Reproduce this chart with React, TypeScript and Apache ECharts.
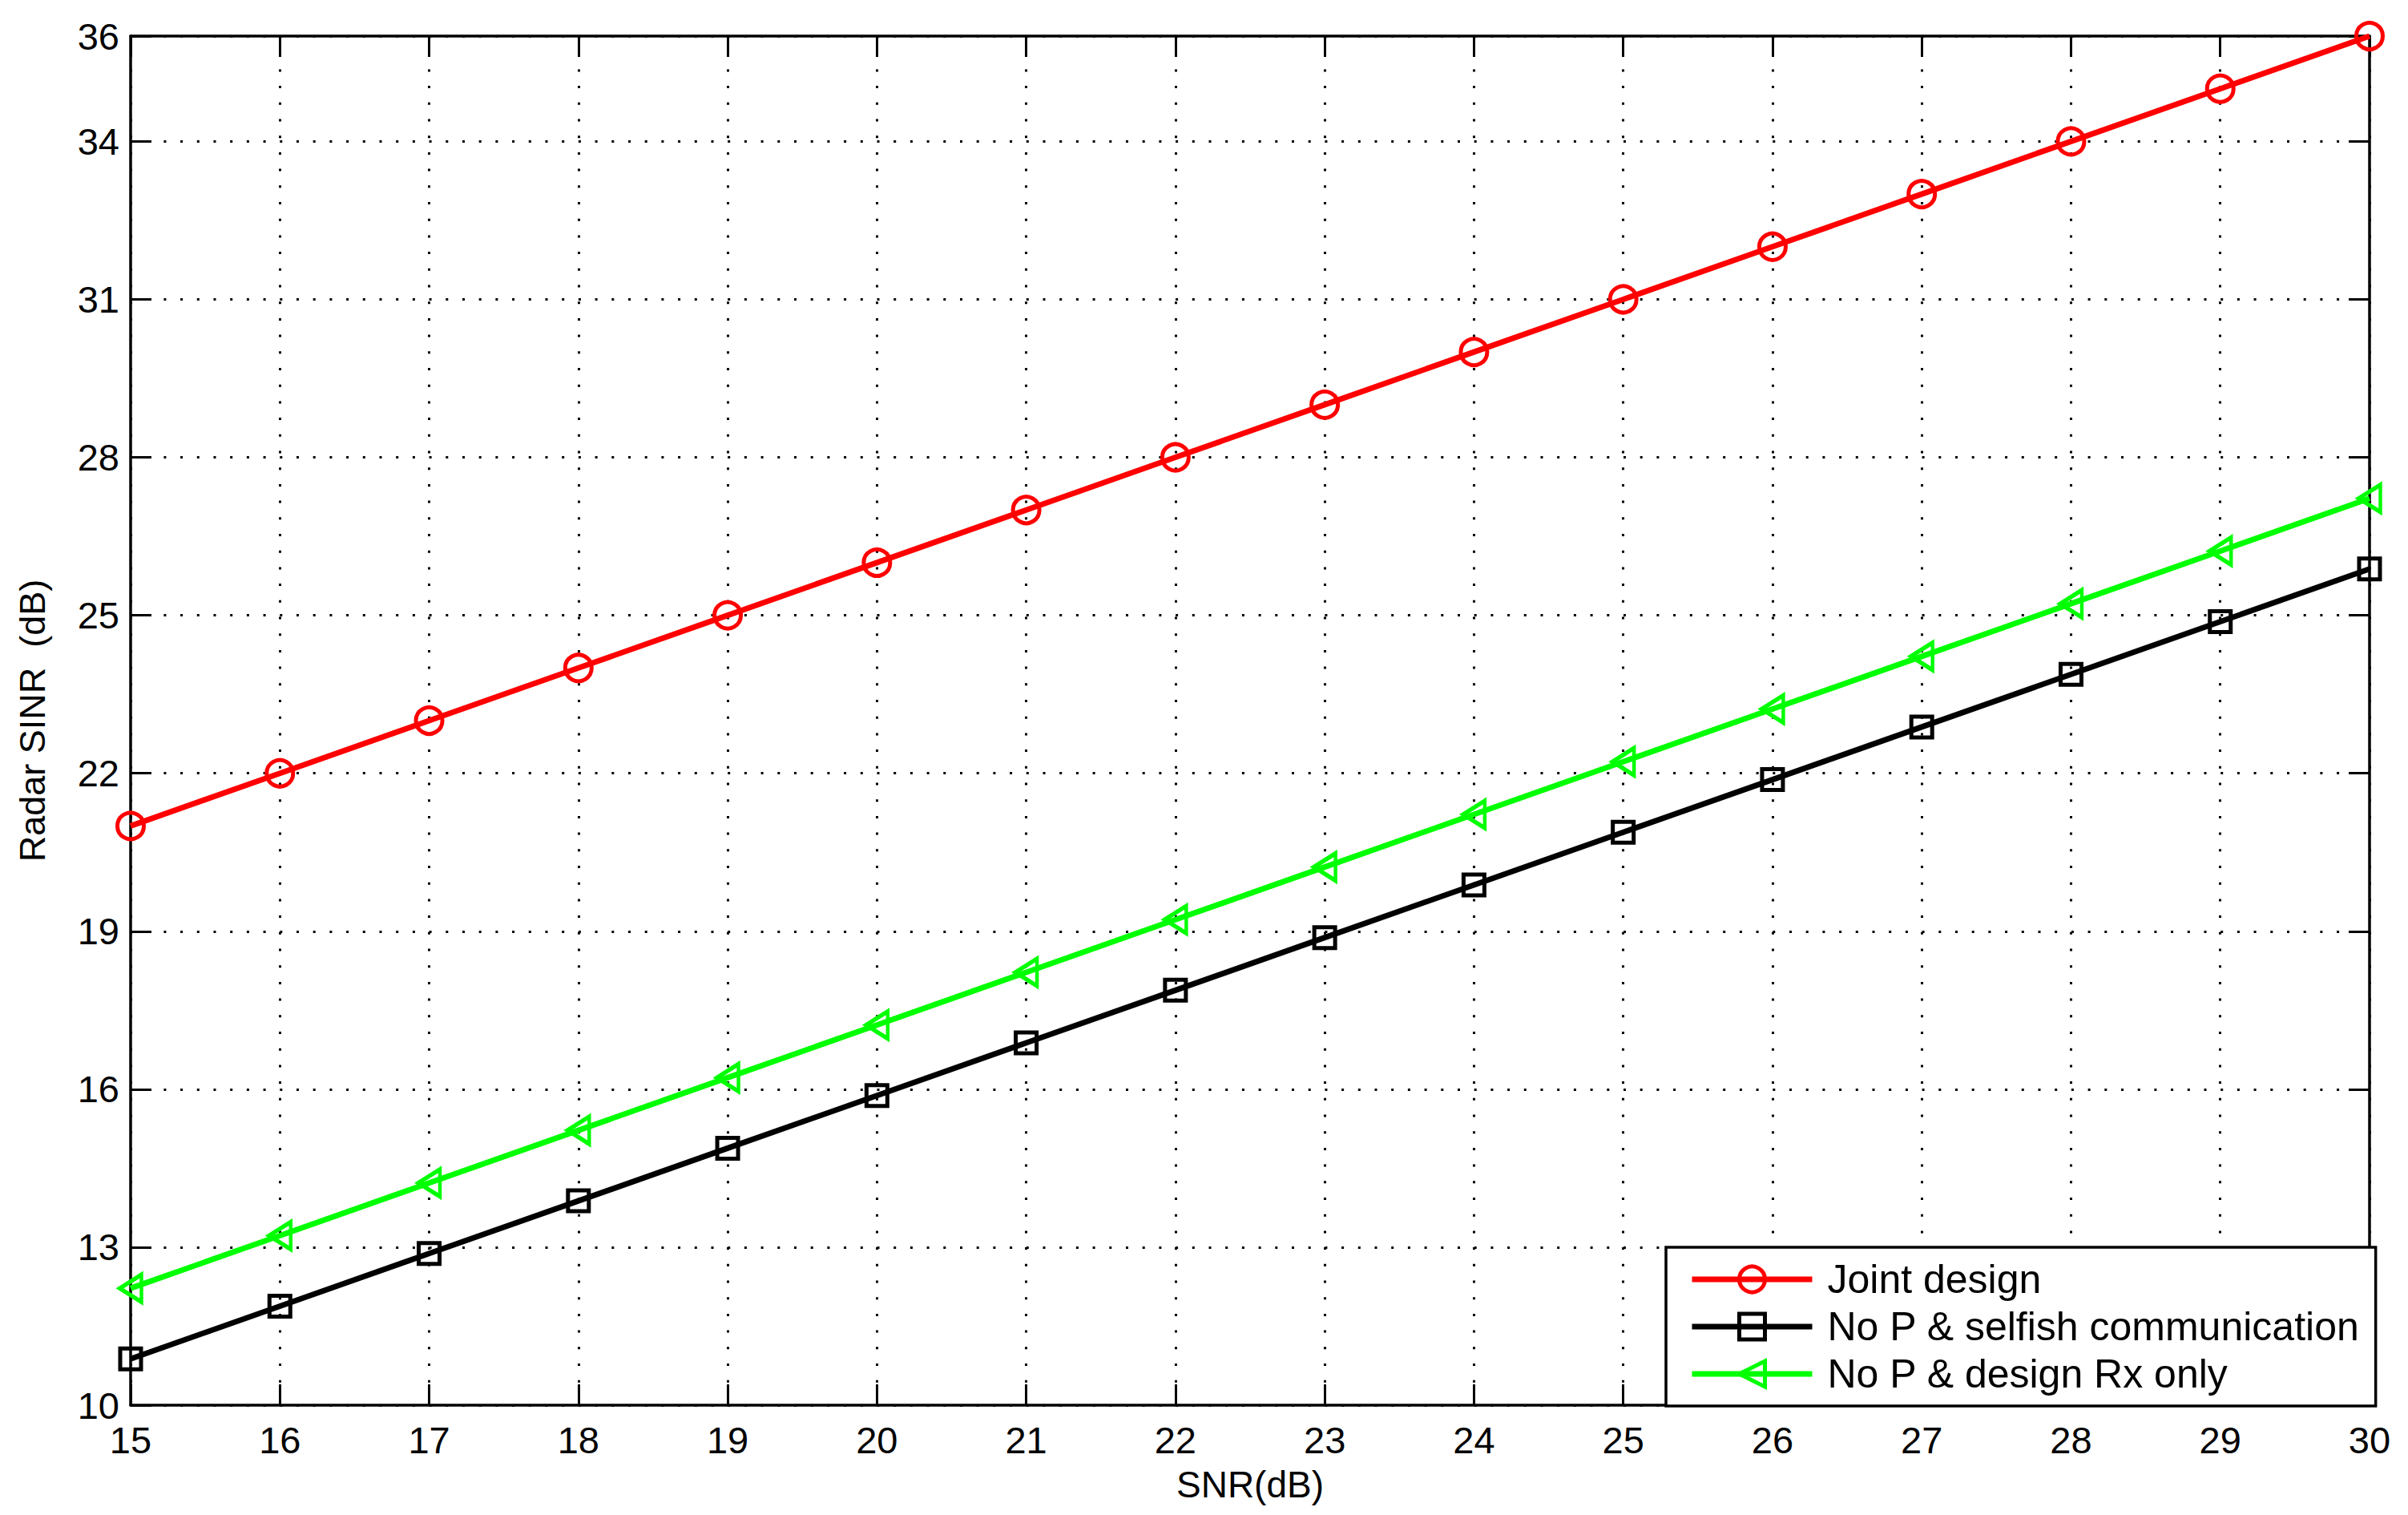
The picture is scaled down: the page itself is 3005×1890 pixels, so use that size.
import React, { useEffect, useRef } from "react";
import * as echarts from "echarts";

const snrDb = [15, 16, 17, 18, 19, 20, 21, 22, 23, 24, 25, 26, 27, 28, 29, 30];
const jointDesign = [21, 22, 23, 24, 25, 26, 27, 28, 29, 30, 31, 32, 33, 34, 35, 36];
const selfishComm = [10.88, 11.88, 12.88, 13.88, 14.88, 15.88, 16.88, 17.88, 18.88, 19.88, 20.88, 21.88, 22.88, 23.88, 24.88, 25.88];
const designRxOnly = [12.22, 13.22, 14.22, 15.22, 16.22, 17.22, 18.22, 19.22, 20.22, 21.22, 22.22, 23.22, 24.22, 25.22, 26.22, 27.22];
const seriesNames = ["Joint design", "No P & selfish communication", "No P & design Rx only"];

const FONT = "Liberation Sans, Arial, Helvetica, sans-serif";

function pairs(ys: number[]) {
  return snrDb.map((x, i) => [x, ys[i]]);
}

export default function App() {
  const ref = useRef<HTMLDivElement>(null);
  useEffect(() => {
    document.body.style.margin = "0";
    const chart = echarts.init(ref.current!, null, { renderer: "svg" });
    const gridLine = { show: true, lineStyle: { color: "#000", width: 3, type: [3, 17.7] as any } };
    const axisLine = { show: true, lineStyle: { color: "#000", width: 3.5 } };
    const tick = { show: true, inside: true, length: 26, lineStyle: { color: "#000", width: 3 } };
    const xBase = { type: "value", min: 15, max: 30, interval: 1 };
    const yBase = { type: "value", min: 10, max: 36, interval: 3 };
    chart.setOption({
      animation: false,
      backgroundColor: "#fff",
      textStyle: { fontFamily: FONT },
      grid: { left: 163, top: 45, right: 48, bottom: 137, containLabel: false },
      xAxis: [
        {
          ...xBase,
          position: "bottom",
          name: "SNR(dB)",
          nameLocation: "middle",
          nameGap: 76,
          nameTextStyle: { fontSize: 46, color: "#000", fontFamily: FONT },
          axisLine,
          axisTick: tick,
          axisLabel: { fontSize: 47, color: "#000", margin: 20, fontFamily: FONT },
          splitLine: gridLine,
        },
        {
          ...xBase,
          position: "top",
          axisLine,
          axisTick: tick,
          axisLabel: { show: false },
          splitLine: { show: false },
        },
      ],
      yAxis: [
        {
          ...yBase,
          position: "left",
          name: "Radar SINR  (dB)",
          nameLocation: "middle",
          nameGap: 100,
          nameTextStyle: { fontSize: 45, color: "#000", fontFamily: FONT },
          axisLine,
          axisTick: tick,
          axisLabel: { fontSize: 47, color: "#000", margin: 14, fontFamily: FONT },
          splitLine: gridLine,
        },
        {
          ...yBase,
          position: "right",
          axisLine,
          axisTick: tick,
          axisLabel: { show: false },
          splitLine: { show: false },
        },
      ],
      legend: {
        orient: "vertical",
        left: 2079,
        top: 1556,
        padding: [15, 20, 15, 29],
        itemGap: 9,
        itemWidth: 150,
        itemHeight: 40,
        backgroundColor: "#fff",
        borderColor: "#000",
        borderWidth: 3.5,
        borderRadius: 0,
        lineStyle: { width: 7 },
        itemStyle: { borderWidth: 5 },
        textStyle: { fontSize: 50, color: "#000", fontFamily: FONT, padding: [0, 0, 0, 14] },
        data: seriesNames,
      },
      series: [
        {
          name: seriesNames[0],
          type: "line",
          data: pairs(jointDesign),
          symbol: "circle",
          symbolSize: 33,
          lineStyle: { color: "#ff0000", width: 7 },
          itemStyle: { color: "transparent", borderColor: "#ff0000", borderWidth: 5 },
          z: 3,
        },
        {
          name: seriesNames[1],
          type: "line",
          data: pairs(selfishComm),
          symbol: "rect",
          symbolSize: 26,
          lineStyle: { color: "#000", width: 7 },
          itemStyle: { color: "transparent", borderColor: "#000", borderWidth: 5 },
          z: 3,
        },
        {
          name: seriesNames[2],
          type: "line",
          data: pairs(designRxOnly),
          symbol: "triangle",
          symbolSize: [34, 27],
          symbolRotate: 90,
          lineStyle: { color: "#00ff00", width: 7 },
          itemStyle: { color: "transparent", borderColor: "#00ff00", borderWidth: 5 },
          z: 3,
        },
      ],
    });
    return () => chart.dispose();
  }, []);
  return <div ref={ref} style={{ width: 3005, height: 1890 }} />;
}
